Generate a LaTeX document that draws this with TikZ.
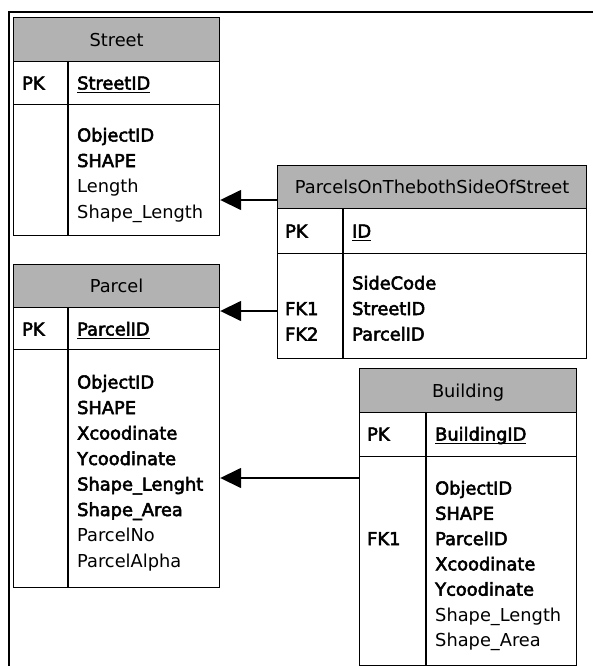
\documentclass[tikz,border=0pt]{standalone}
\usepackage{fontspec}
\setmainfont{DejaVu Sans}[BoldFont={DejaVu Sans},BoldFeatures={FakeBold=3}]
\usetikzlibrary{arrows.meta}

% underlined key attribute with a firm rule
\newcommand\keyname[1]{\setbox0\hbox{#1}\rlap{\rule[-3.5pt]{\wd0}{1.3pt}}\box0}

\tikzset{
  tbl/.style={draw, line width=1.2pt, anchor=north west, inner sep=0pt, rectangle},
  hdr/.style={tbl, fill=gray!60},
  txt/.style={font=\fontsize{17.8}{20}\selectfont, inner sep=0pt, text height=13pt, text depth=0pt},
  fld/.style={txt, anchor=west},
  fk/.style={line width=1.6pt, -{Triangle[length=21pt,width=20pt]}},
  outer/.style={line width=2pt},
  divider/.style={line width=1.2pt}
}

\begin{document}
\begin{tikzpicture}[x=1pt,y=-1pt]
\useasboundingbox (0,0) rectangle (593,666);

% page frame
\draw[outer] (9,666) -- (9,12) -- (593,12);

% ---------------- Street ----------------
\node[hdr, txt, minimum width=206pt, minimum height=44pt] (street-h) at (13,17) {Street};
\node[tbl, minimum width=206pt, minimum height=43pt] (street-k) at (13,61) {};
\node[tbl, minimum width=206pt, minimum height=131pt] (street-b) at (13,104) {};
\draw[divider] (68,61) -- (68,235);
\node[fld] (street-pk) at (22,83) {\bfseries PK};
\node[fld] (street-id) at (77,83) {\bfseries\keyname{StreetID}};
\foreach \t [count=\i] in {\textbf{ObjectID},\textbf{SHAPE},Length,Shape\_Length}
  \node[fld] (street-f\i) at (77,{135+25.5*(\i-1)}) {\t};

% ------------- ParcelsOnThebothSideOfStreet -------------
\node[hdr, txt, minimum width=309pt, minimum height=43pt] (pp-h) at (277,165) {ParcelsOnThebothSideOfStreet};
\node[tbl, minimum width=309pt, minimum height=45pt] (pp-k) at (277,208) {};
\node[tbl, minimum width=309pt, minimum height=105pt] (pp-b) at (277,253) {};
\draw[divider] (343,208) -- (343,358);
\node[fld] (pp-pk) at (285,231) {\bfseries PK};
\node[fld] (pp-id) at (352,231) {\bfseries\keyname{ID}};
\foreach \t [count=\i] in {SideCode,StreetID,ParcelID}
  \node[fld] (pp-f\i) at (352,{283+25.5*(\i-1)}) {\bfseries\t};
\node[fld] (pp-fk1) at (285,308.5) {\bfseries FK1};
\node[fld] (pp-fk2) at (285,334) {\bfseries FK2};

% ---------------- Parcel ----------------
\node[hdr, txt, minimum width=206pt, minimum height=43pt] (parcel-h) at (13,264) {Parcel};
\node[tbl, minimum width=206pt, minimum height=42pt] (parcel-k) at (13,307) {};
\node[tbl, minimum width=206pt, minimum height=238pt] (parcel-b) at (13,349) {};
\draw[divider] (68,307) -- (68,587);
\node[fld] (parcel-pk) at (22,329) {\bfseries PK};
\node[fld] (parcel-id) at (77,329) {\bfseries\keyname{ParcelID}};
\foreach \t [count=\i] in {\textbf{ObjectID},\textbf{SHAPE},\textbf{Xcoodinate},\textbf{Ycoodinate},
    \textbf{Shape\_Lenght},\textbf{Shape\_Area},ParcelNo,ParcelAlpha}
  \node[fld] (parcel-f\i) at (77,{382+25.5*(\i-1)}) {\t};

% ---------------- Building ----------------
\node[hdr, txt, minimum width=217pt, minimum height=44pt] (bld-h) at (359,368) {Building};
\node[tbl, minimum width=217pt, minimum height=44pt] (bld-k) at (359,412) {};
\node[tbl, minimum width=217pt, minimum height=209pt] (bld-b) at (359,456) {};
\draw[divider] (426,412) -- (426,665);
\node[fld] (bld-pk) at (367,434) {\bfseries PK};
\node[fld] (bld-id) at (435,434) {\bfseries\keyname{BuildingID}};
\foreach \t [count=\i] in {\textbf{ObjectID},\textbf{SHAPE},\textbf{ParcelID},\textbf{Xcoodinate},
    \textbf{Ycoodinate},Shape\_Length,Shape\_Area}
  \node[fld] (bld-f\i) at (435,{488+25.3*(\i-1)}) {\t};
\node[fld] (bld-fk1) at (367,538.6) {\bfseries FK1};

% ---------------- relationships ----------------
\coordinate (r1) at (277,200);
\coordinate (r2) at (277,311);
\coordinate (r3) at (359,478);
\draw[fk] (r1) -- (r1 -| street-b.east);
\draw[fk] (r2) -- (r2 -| parcel-h.east);
\draw[fk] (r3) -- (r3 -| parcel-b.east);
\end{tikzpicture}
\end{document}
